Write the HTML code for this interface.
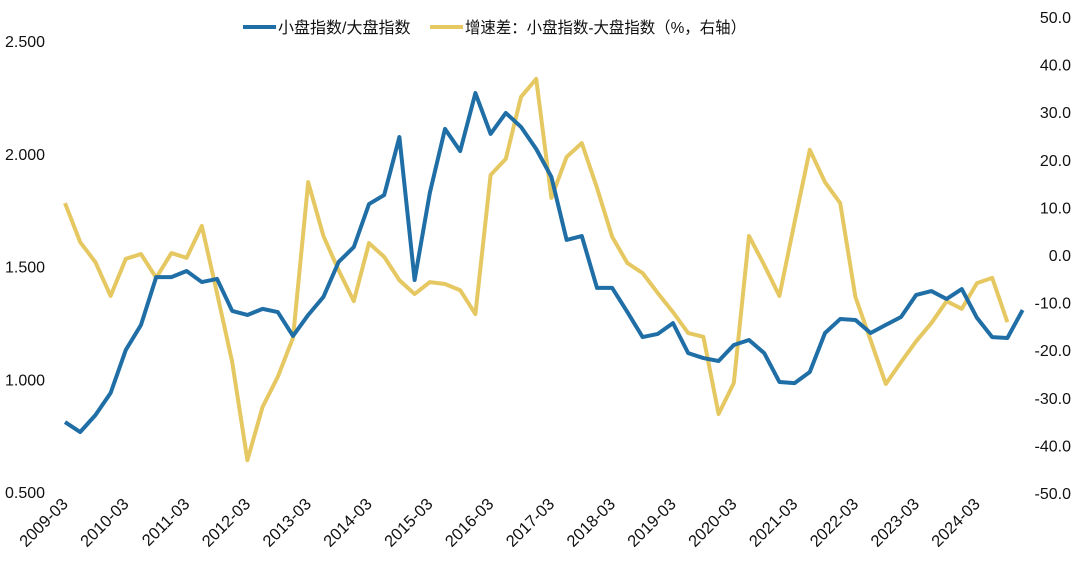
<!DOCTYPE html>
<html><head><meta charset="utf-8"><style>
html,body{margin:0;padding:0;background:#fff;}
svg{display:block;font-family:"Liberation Sans","Noto Sans CJK SC",sans-serif;}
</style></head><body>
<svg id="chart" width="1080" height="570" viewBox="0 0 1080 570" xmlns="http://www.w3.org/2000/svg">
<g id="legend">
  <line x1="243" y1="27" x2="276" y2="27" stroke="#1f6ea6" stroke-width="4"/>
  <text x="278" y="33" font-size="16" fill="#111">小盘指数/大盘指数</text>
  <line x1="430" y1="27" x2="463" y2="27" stroke="#e6c862" stroke-width="4"/>
  <text x="465" y="33" font-size="16" fill="#111" textLength="281" lengthAdjust="spacingAndGlyphs">增速差：小盘指数-大盘指数（%，右轴）</text>
</g>
<g id="yl"></g>
<g id="yr"></g>
<g id="xa"></g>
<g id="series"></g>
</svg>
<script>
const ratioValues=[0.810,0.766,0.841,0.939,1.130,1.241,1.453,1.453,1.480,1.431,1.445,1.303,1.285,1.312,1.298,1.192,1.285,1.365,1.520,1.586,1.777,1.817,2.074,1.440,1.826,2.110,2.012,2.269,2.088,2.181,2.119,2.021,1.897,1.618,1.635,1.405,1.405,1.298,1.187,1.201,1.249,1.116,1.094,1.081,1.152,1.174,1.116,0.988,0.983,1.032,1.205,1.267,1.263,1.205,1.241,1.276,1.374,1.391,1.356,1.400,1.272,1.187,1.183,1.307];
const gapValues=[10.9,2.7,-1.5,-8.6,-0.8,0.2,-4.8,0.4,-0.6,6.1,-8.0,-22.5,-43.1,-31.9,-25.6,-17.4,15.3,4.0,-3.2,-9.7,2.5,-0.4,-5.3,-8.2,-5.7,-6.1,-7.4,-12.4,16.8,20.2,33.2,37.0,12.0,20.6,23.5,14.1,3.8,-1.7,-3.8,-8.0,-12.0,-16.4,-17.2,-33.4,-26.9,4.0,-2.1,-8.6,6.9,22.1,15.3,10.9,-8.8,-17.9,-27.1,-22.5,-18.1,-14.3,-9.7,-11.3,-5.9,-4.8,-14.1];
const leftTicks=[0.5,1.0,1.5,2.0,2.5];
const rightTicks=[50,40,30,20,10,0,-10,-20,-30,-40,-50];
const xLabels=["2009-03","2010-03","2011-03","2012-03","2013-03","2014-03","2015-03","2016-03","2017-03","2018-03","2019-03","2020-03","2021-03","2022-03","2023-03","2024-03"];
const NS="http://www.w3.org/2000/svg";
const x=i=>65+15.2*i;
const yL=v=>41+(2.5-v)*225.5;
const yR=v=>255-v*4.76;
function mk(t,a,p){const e=document.createElementNS(NS,t);for(const k in a)e.setAttribute(k,a[k]);p.appendChild(e);return e;}
const yl=document.getElementById('yl'),yr=document.getElementById('yr'),xa=document.getElementById('xa'),se=document.getElementById('series');
leftTicks.forEach(v=>{const t=mk('text',{x:5,y:yL(v)+6,'font-size':16,fill:'#111'},yl);t.textContent=v.toFixed(3);

});
rightTicks.forEach(v=>{const t=mk('text',{x:1071,y:yR(v)+6,'font-size':16,fill:'#111','text-anchor':'end'},yr);t.textContent=v.toFixed(1);

});
xLabels.forEach((s,k)=>{const px=x(k*4)+4,py=505;const t=mk('text',{x:px,y:py,'font-size':16.5,fill:'#111','text-anchor':'end',transform:`rotate(-45 ${px} ${py})`},xa);t.textContent=s;

});
const g=mk('polyline',{points:gapValues.map((v,i)=>x(i)+','+yR(v)).join(' '),fill:'none',stroke:'#e6c862','stroke-width':4,'stroke-linejoin':'round'},se);


const r=mk('polyline',{points:ratioValues.map((v,i)=>x(i)+','+yL(v)).join(' '),fill:'none',stroke:'#1f6ea6','stroke-width':4,'stroke-linejoin':'round'},se);


</script>
</body></html>
